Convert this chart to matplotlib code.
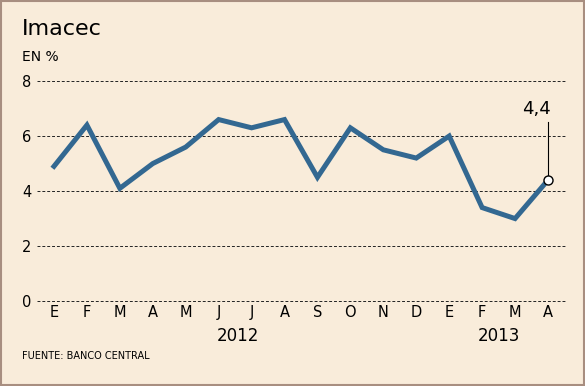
import matplotlib
matplotlib.use("Agg")
import matplotlib.pyplot as plt
from matplotlib.patches import Rectangle

months = ["E", "F", "M", "A", "M", "J", "J", "A", "S", "O", "N", "D", "E", "F", "M", "A"]
values = [4.9, 6.4, 4.1, 5.0, 5.6, 6.6, 6.3, 6.6, 4.5, 6.3, 5.5, 5.2, 6.0, 3.4, 3.0, 4.4]
years = ["2012", "2013"]
year_pos = [5.6, 13.5]
yticks = [0, 2, 4, 6, 8]
last_label = "4,4"

bg = "#F9ECDA"
line_c = "#336891"

fig = plt.figure(figsize=(5.85, 3.86), dpi=100, facecolor=bg)
fig.patches.append(Rectangle((0.0015, 0.002), 0.997, 0.996, transform=fig.transFigure,
                             fill=False, edgecolor="#A88E80", linewidth=1.5))
ax = fig.add_axes([0.063, 0.220, 0.903, 0.570])
ax.set_facecolor(bg)
for s in ax.spines.values():
    s.set_visible(False)

x = list(range(len(values)))
ax.set_xlim(-0.52, len(values) - 1 + 0.52)
ax.set_ylim(0, 8)
for yv in yticks:
    ax.axhline(yv, color="#222222", linestyle=(0, (3, 2)), linewidth=0.7, zorder=1, clip_on=False)
ax.plot(x, values, color=line_c, linewidth=3.6, solid_joinstyle="miter", zorder=3, clip_on=False)

# annotation
ax.plot([x[-1], x[-1]], [values[-1], 6.5], color="black", linewidth=0.8, zorder=2)
ax.plot(x[-1], values[-1], "o", markersize=6.5, markerfacecolor="white",
        markeredgecolor="black", markeredgewidth=1.0, zorder=5)
ax.text(x[-1] - 0.35, 6.65, last_label, fontsize=13, ha="center", va="bottom", color="black")

ax.set_yticks(yticks)
ax.set_yticklabels([str(v) for v in yticks], fontsize=10.5)
ax.tick_params(axis="y", length=0, pad=4)
ax.set_xticks(x)
ax.set_xticklabels(months, fontsize=10.5)
ax.tick_params(axis="x", length=0, pad=3)

for lab, p in zip(years, year_pos):
    ax.text(p, -0.95, lab, fontsize=12, ha="center", va="top",
            transform=ax.transData)

fig.text(0.038, 0.925, "Imacec", fontsize=16, ha="left", va="center")
fig.text(0.038, 0.853, "EN %", fontsize=10, ha="left", va="center")
fig.text(0.038, 0.078, "FUENTE: BANCO CENTRAL", fontsize=7, ha="left", va="center")

fig.savefig("out.png", dpi=100, facecolor=bg)
